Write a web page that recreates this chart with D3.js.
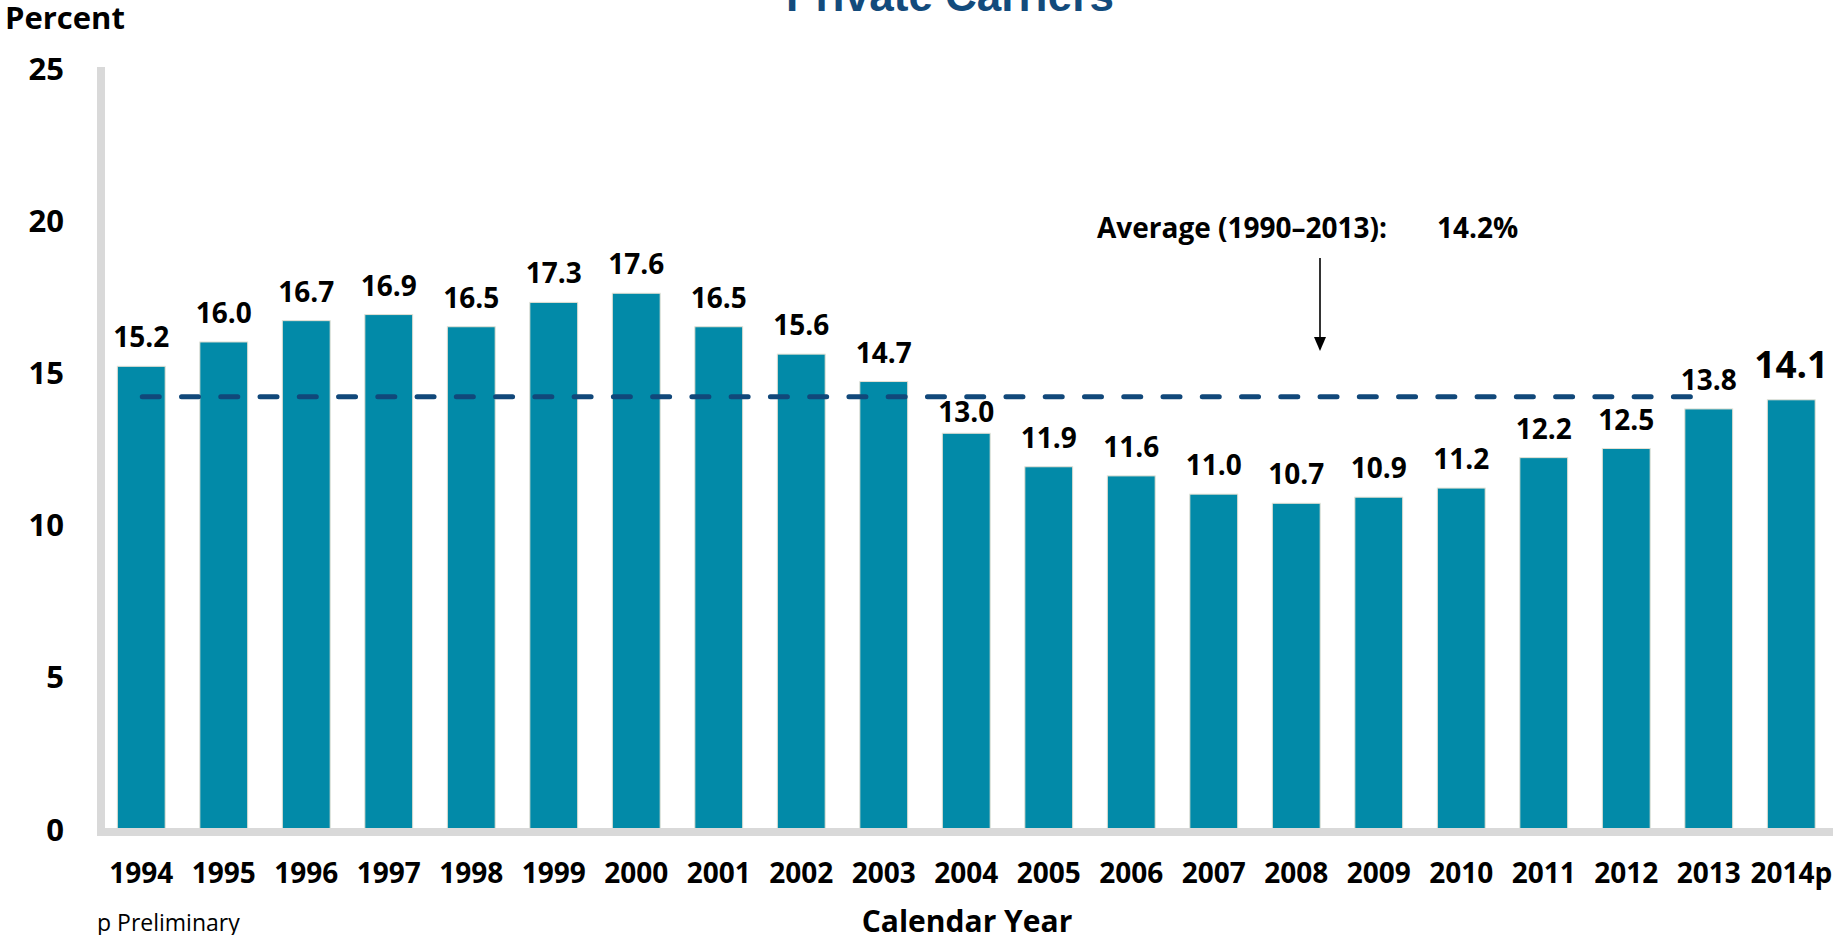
<!DOCTYPE html>
<html>
<head>
<meta charset="utf-8">
<title>Private Carriers</title>
<script src="https://cdn.jsdelivr.net/npm/d3@7"></script>
<style>
  body { margin: 0; background: #fff; }
  svg { display: block; }
  text { font-family: "Open Sans", "Noto Sans", sans-serif; }
</style>
</head>
<body>
<svg id="chart" width="1833" height="935"></svg>
<script>
// Calendar years shown on the x axis
const years = ["1994", "1995", "1996", "1997", "1998", "1999", "2000", "2001", "2002", "2003",
               "2004", "2005", "2006", "2007", "2008", "2009", "2010", "2011", "2012", "2013", "2014p"];
// Percent for each year
const rates = [15.2, 16.0, 16.7, 16.9, 16.5, 17.3, 17.6, 16.5, 15.6, 14.7,
               13.0, 11.9, 11.6, 11.0, 10.7, 10.9, 11.2, 12.2, 12.5, 13.8, 14.1];
// Y axis tick values
const yTicks = [0, 5, 10, 15, 20, 25];
// Long-run average shown as a dashed reference line
const average = 14.2;
const averageStart = "1994";
const averageEnd = "2013";
const averageLabel = "Average (1990–2013):";
const averageValueLabel = "14.2%";

const titleText = "Private Carriers";
const yAxisTitle = "Percent";
const xAxisTitle = "Calendar Year";
const footnote = "p Preliminary";
const preliminaryYear = "2014p";

const data = years.map((year, i) => ({ year, value: rates[i] }));

const svg = d3.select("#chart");

const x = d3.scaleBand()
  .domain(years)
  .range([100, 1832.5])
  .paddingInner(0.42)
  .paddingOuter(0.21);

const y = d3.scaleLinear()
  .domain([0, 25])
  .range([829, 68]);

const barColor = "#028aa8";
const axisGray = "#d9d9d9";
const navy = "#11487a";

// Title (sits partly above the top edge)
svg.append("text")
  .attr("x", 950)
  .attr("y", 11)
  .attr("text-anchor", "middle")
  .style("font-family", "'Liberation Sans', Arial, sans-serif")
  .style("font-weight", "bold")
  .style("font-size", "44px")
  .attr("fill", "#134b7c")
  .text(titleText);

// Y axis: thick gray rule with bold tick labels
const yAxis = svg.append("g")
  .attr("transform", "translate(101,0)")
  .call(d3.axisLeft(y).tickValues(yTicks).tickSize(0).tickPadding(37).tickFormat(d3.format("d")));
yAxis.select(".domain")
  .attr("stroke", axisGray)
  .attr("stroke-width", 8)
  .attr("d", `M0,${y(25) - 1}V${y(0) + 7}`);
yAxis.selectAll(".tick text")
  .attr("dy", "0.36em")
  .style("font-family", "'Open Sans', sans-serif")
  .style("font-weight", "bold")
  .style("font-size", "31px")
  .attr("fill", "#000");

// Bars
svg.append("g")
  .selectAll("rect")
  .data(data)
  .join("rect")
  .attr("x", d => x(d.year))
  .attr("width", x.bandwidth())
  .attr("y", d => y(d.value))
  .attr("height", d => y(0) - y(d.value))
  .attr("fill", barColor)
  .attr("stroke", "#e4e1d4")
  .attr("stroke-width", 1);

// X axis: gray baseline and year labels
const xAxis = svg.append("g")
  .attr("transform", `translate(0,${y(0) + 3})`)
  .call(d3.axisBottom(x).tickSize(0).tickSizeOuter(0));
xAxis.select(".domain").remove();
svg.append("line")
  .attr("x1", 97).attr("x2", 1833)
  .attr("y1", y(0) + 3).attr("y2", y(0) + 3)
  .attr("stroke", axisGray)
  .attr("stroke-width", 8);
xAxis.selectAll(".tick text")
  .attr("y", 51)
  .attr("dy", 0)
  .style("font-family", "'Open Sans', sans-serif")
  .style("font-weight", "bold")
  .style("font-size", "28px")
  .attr("fill", "#000");

// Dashed average line
const avgY = y(average);
svg.append("line")
  .attr("x1", x(averageStart) + x.bandwidth() / 2 + 1)
  .attr("x2", x(averageEnd) + 6)
  .attr("y1", avgY).attr("y2", avgY)
  .attr("stroke", navy)
  .attr("stroke-width", 5)
  .attr("stroke-linecap", "round")
  .attr("stroke-dasharray", "17 22.26");

// Value labels above bars; a label that would cross the average line is tucked below it
svg.append("g")
  .selectAll("text")
  .data(data)
  .join("text")
  .attr("x", d => x(d.year) + x.bandwidth() / 2)
  .attr("y", d => {
    const big = d.year === preliminaryYear;
    let base = y(d.value) - (big ? 22 : 19);
    const top = base - (big ? 27 : 20);
    if (!big && top < avgY + 5 && base > avgY - 3) base = y(d.value) - 11;
    return base;
  })
  .attr("text-anchor", "middle")
  .style("font-weight", "bold")
  .style("font-size", d => d.year === preliminaryYear ? "37px" : "28px")
  .attr("fill", "#000")
  .text(d => d3.format(".1f")(d.value));

// Annotation with arrow pointing at the average line
svg.append("text")
  .attr("x", 1097)
  .attr("y", 238)
  .style("font-weight", "bold")
  .style("font-size", "28px")
  .attr("fill", "#000")
  .text(averageLabel);
svg.append("text")
  .attr("x", 1437)
  .attr("y", 238)
  .style("font-weight", "bold")
  .style("font-size", "28px")
  .attr("fill", "#000")
  .text(averageValueLabel);
svg.append("line")
  .attr("x1", 1320).attr("x2", 1320)
  .attr("y1", 258).attr("y2", 338)
  .attr("stroke", "#000")
  .attr("stroke-width", 1.6);
svg.append("path")
  .attr("d", "M1314,337L1326,337L1320,351Z")
  .attr("fill", "#000");

// Axis titles and footnote
svg.append("text")
  .attr("x", 5)
  .attr("y", 29)
  .style("font-weight", "bold")
  .style("font-size", "31px")
  .attr("fill", "#000")
  .text(yAxisTitle);
svg.append("text")
  .attr("x", 967)
  .attr("y", 932)
  .attr("text-anchor", "middle")
  .style("font-weight", "bold")
  .style("font-size", "30px")
  .attr("fill", "#000")
  .text(xAxisTitle);
svg.append("text")
  .attr("x", 97)
  .attr("y", 931)
  .style("font-size", "23px")
  .attr("fill", "#000")
  .text(footnote);
</script>
</body>
</html>
